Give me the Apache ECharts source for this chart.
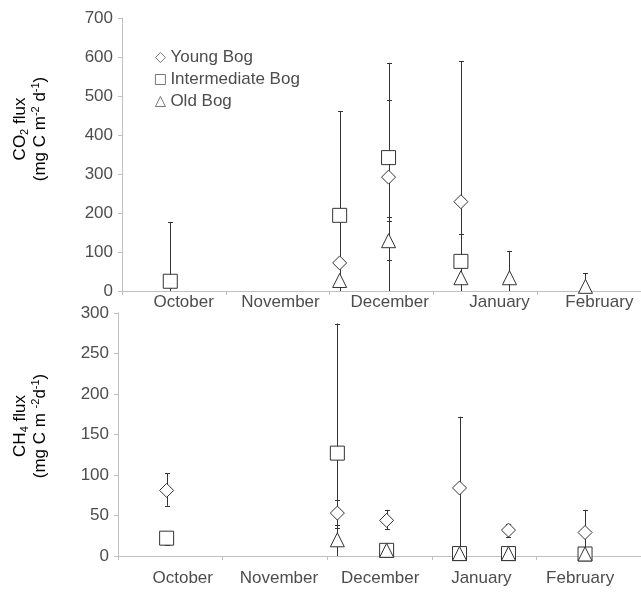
<!DOCTYPE html>
<html>
<head>
<meta charset="utf-8">
<script src="https://cdn.jsdelivr.net/npm/echarts@6/dist/echarts.min.js"></script>
<style>
html,body{margin:0;padding:0;background:#fff;}
#main{width:641px;height:592px;}
</style>
</head>
<body>
<div id="main"></div>
<script>
// sampling dates, in months from 1 October
var sampleX = [0.465, 2.097, 2.568, 3.265, 3.733, 4.465];
var monthNames = ['October', 'November', 'December', 'January', 'February'];
var monthTicks = [0, 1, 2, 3, 4, 5];
var co2LabelPos = [0.594, 1.527, 2.579, 3.637, 4.599];
var ch4LabelPos = [0.619, 1.539, 2.507, 3.474, 4.418];

// CO2 flux
var co2Young = [null, 72, 292, 229, null, null];
var co2YoungLow = [null, null, 191, 0, null, null];
var co2YoungHigh = [null, null, 491, 589, null, null];
var co2Inter = [25, 194, 342, 76, null, null];
var co2InterLow = [0, 0, 0, 0, null, null];
var co2InterHigh = [177, 461, 585, 145, null, null];
var co2Old = [null, 27, 129, 34, 34, 12];
var co2OldLow = [null, null, 79, null, 0, 0];
var co2OldHigh = [null, null, 179, null, 103, 45];

// CH4 flux
var ch4Young = [81, 53, 44, 84, 32, 29];
var ch4YoungLow = [62, 35, 33, 0, 23, 0];
var ch4YoungHigh = [102, 69, 57, 172, 40, 57];
var ch4Inter = [22, 127, 7, 3, 3, 2.5];
var ch4InterLow = [13, 0, null, null, null, null];
var ch4InterHigh = [22, 287, null, null, null, null];
var ch4Old = [null, 20, 7, 3, 3, 2.5];
var ch4OldLow = [null, 0, null, null, null, null];
var ch4OldHigh = [null, 38, null, null, null, null];

var textColor = '#4d4d4d';
var lineColor = '#bfbfbf';
var font = 'Liberation Sans';

function points(vals){
	var out = [];
	for (var i = 0; i < vals.length; i++) {
		if (vals[i] != null) out.push([sampleX[i], vals[i]]);
	}
	return out;
}
function errs(lows, highs){
	var out = [];
	for (var i = 0; i < lows.length; i++) {
		if (lows[i] != null && highs[i] != null) out.push([sampleX[i], lows[i], highs[i]]);
	}
	return out;
}

function renderErr(params, api){
	var x = api.value(0), lo = api.value(1), hi = api.value(2);
	var pTop = api.coord([x, hi]);
	var pBot = api.coord([x, lo]);
	var px = Math.round(pTop[0]) + 0.5;
	var style = {stroke: '#333', lineWidth: 1};
	var kids = [{
		type: 'line',
		shape: {x1: px, y1: pTop[1], x2: px, y2: pBot[1]},
		style: style
	}, {
		type: 'line',
		shape: {x1: px - 2.5, y1: Math.round(pTop[1]) + 0.5, x2: px + 2.5, y2: Math.round(pTop[1]) + 0.5},
		style: style
	}];
	if (lo > 0) {
		kids.push({
			type: 'line',
			shape: {x1: px - 2.5, y1: Math.round(pBot[1]) + 0.5, x2: px + 2.5, y2: Math.round(pBot[1]) + 0.5},
			style: style
		});
	}
	return {type: 'group', children: kids};
}

function xAxisFor(gridIndex, labelPos, margin){
	return {
		type: 'value', gridIndex: gridIndex, min: 0, max: 5,
		splitLine: {show: false},
		axisLine: {show: true, lineStyle: {color: lineColor}},
		axisTick: {show: true, length: 4, customValues: monthTicks, lineStyle: {color: lineColor}},
		axisLabel: {
			customValues: labelPos, margin: margin,
			fontFamily: font, fontSize: 17, color: textColor,
			formatter: function(v){
				for (var i = 0; i < labelPos.length; i++) {
					if (Math.abs(labelPos[i] - v) < 1e-6) return monthNames[i];
				}
				return '';
			}
		}
	};
}
function yAxisFor(gridIndex, max, interval){
	return {
		type: 'value', gridIndex: gridIndex, min: 0, max: max, interval: interval,
		splitLine: {show: false},
		axisLine: {show: true, lineStyle: {color: lineColor}},
		axisTick: {show: true, length: 4, lineStyle: {color: lineColor}},
		axisLabel: {margin: 9, fontFamily: font, fontSize: 17, color: textColor}
	};
}

var markerStyle = {color: '#fff', borderColor: '#333', borderWidth: 1, opacity: 1};
function scatter(name, symbol, idx, vals){
	return {
		name: name, type: 'scatter', xAxisIndex: idx, yAxisIndex: idx,
		symbol: symbol, symbolSize: 14, itemStyle: markerStyle, z: 3,
		data: points(vals)
	};
}
function errSeries(idx, lows, highs){
	return {
		type: 'custom', xAxisIndex: idx, yAxisIndex: idx, z: 2,
		renderItem: renderErr, data: errs(lows, highs), silent: true
	};
}

var yNameRich = {
	n: {fontFamily: font, fontSize: 17, color: textColor, lineHeight: 20},
	sub: {fontFamily: font, fontSize: 11, color: textColor, lineHeight: 20, verticalAlign: 'bottom'},
	sup: {fontFamily: font, fontSize: 11, color: textColor, lineHeight: 20, verticalAlign: 'top'}
};

var chart = echarts.init(document.getElementById('main'));
chart.setOption({
	animation: false,
	backgroundColor: '#fff',
	grid: [
		{left: 122, top: 18, width: 520, height: 273},
		{left: 118, top: 313, width: 527, height: 243}
	],
	xAxis: [xAxisFor(0, co2LabelPos, 3), xAxisFor(1, ch4LabelPos, 14)],
	yAxis: [yAxisFor(0, 700, 100), yAxisFor(1, 300, 50)],
	legend: {
		orient: 'vertical', left: 150, top: 44,
		itemWidth: 10, itemHeight: 10, itemGap: 5,
		itemStyle: {color: '#fff', borderColor: '#555', borderWidth: 0.8},
		textStyle: {fontFamily: font, fontSize: 17, color: textColor, lineHeight: 17},
		data: ['Young Bog', 'Intermediate Bog', 'Old Bog']
	},
	graphic: [{
		type: 'text', x: 30, y: 129, rotation: Math.PI / 2,
		style: {
			text: '{n|CO}{sub|2}{n| flux}\n{n|(mg C m}{sup|-2}{n| d}{sup|-1}{n|)}',
			rich: yNameRich, align: 'center', verticalAlign: 'middle'
		}
	}, {
		type: 'text', x: 30, y: 426, rotation: Math.PI / 2,
		style: {
			text: '{n|CH}{sub|4}{n| flux}\n{n|(mg C m }{sup|-2}{n|d}{sup|-1}{n|)}',
			rich: yNameRich, align: 'center', verticalAlign: 'middle'
		}
	}],
	series: [
		errSeries(0, co2InterLow, co2InterHigh),
		errSeries(0, co2YoungLow, co2YoungHigh),
		errSeries(0, co2OldLow, co2OldHigh),
		scatter('Old Bog', 'triangle', 0, co2Old),
		scatter('Young Bog', 'diamond', 0, co2Young),
		scatter('Intermediate Bog', 'rect', 0, co2Inter),
		errSeries(1, ch4InterLow, ch4InterHigh),
		errSeries(1, ch4YoungLow, ch4YoungHigh),
		errSeries(1, ch4OldLow, ch4OldHigh),
		scatter('Intermediate Bog', 'rect', 1, ch4Inter),
		scatter('Old Bog', 'triangle', 1, ch4Old),
		scatter('Young Bog', 'diamond', 1, ch4Young)
	]
});
</script>
</body>
</html>
